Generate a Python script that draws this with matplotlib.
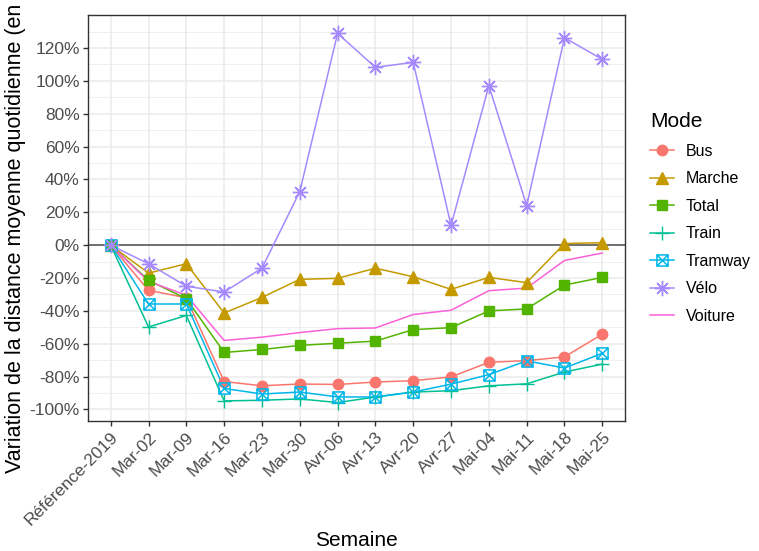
import numpy as np
import matplotlib
matplotlib.use('Agg')
import matplotlib.pyplot as plt
from matplotlib.path import Path
from matplotlib.ticker import MultipleLocator

plt.rcParams['font.family'] = ['Liberation Sans', 'DejaVu Sans']

##
## data (variation vs. reference 2019, in %)
##
semaines = ['Référence-2019', 'Mar-02', 'Mar-09', 'Mar-16', 'Mar-23', 'Mar-30', 'Avr-06',
            'Avr-13', 'Avr-20', 'Avr-27', 'Mai-04', 'Mai-11', 'Mai-18', 'Mai-25']

bus     = [0, -27.5, -32.0, -83.0, -85.6, -84.5, -84.8, -83.3, -82.5, -80.2, -71.3, -70.3, -68.0, -54.2]
marche  = [0, -17.0, -11.3, -41.3, -31.8, -20.8, -20.2, -14.0, -19.2, -26.9, -19.6, -22.8,   1.0,   1.5]
total   = [0, -21.4, -32.6, -65.3, -63.5, -61.0, -59.7, -58.4, -51.4, -50.2, -40.0, -38.8, -24.3, -19.6]
train   = [0, -49.8, -42.8, -94.8, -94.4, -93.6, -95.8, -92.4, -89.4, -88.6, -85.6, -84.4, -77.2, -72.4]
tramway = [0, -35.8, -35.8, -87.2, -90.6, -89.4, -92.4, -92.4, -89.4, -84.6, -78.8, -70.4, -74.8, -65.8]
velo    = [0, -11.3, -25.0, -28.5, -14.0,  32.6, 128.9, 108.3, 111.3,  12.0,  97.1,  24.1, 126.3, 113.1]
voiture = [0, -22.0, -30.5, -58.0, -56.0, -53.2, -50.8, -50.4, -42.2, -39.6, -27.7, -26.1,  -9.3,  -4.8]

modes  = ['Bus', 'Marche', 'Total', 'Train', 'Tramway', 'Vélo', 'Voiture']
series = [bus, marche, total, train, tramway, velo, voiture]

## ggplot hue palette
colors = ['#F8766D', '#C49A00', '#53B400', '#00C094', '#00B6EB', '#A58AFF', '#FB61D7']

## square with a cross (R pch 7)
boxx = Path([(-1, -1), (1, -1), (1, 1), (-1, 1), (-1, -1), (-1, -1), (1, 1), (-1, 1), (1, -1)],
            [Path.MOVETO, Path.LINETO, Path.LINETO, Path.LINETO, Path.CLOSEPOLY,
             Path.MOVETO, Path.LINETO, Path.MOVETO, Path.LINETO])

markers = ['o', '^', 's', '+', boxx, (8, 2, 0), None]
msizes  = [7.5, 8.5, 7.5, 10, 8, 11, 0]

def style(mk, ms, col):
    if mk is None:
        return {}
    if mk is boxx:
        return dict(marker=mk, ms=ms, mfc='none', mec=col, mew=1.1)
    if mk in ['+', (8, 2, 0)]:
        return dict(marker=mk, ms=ms, mec=col, mew=1.0)
    return dict(marker=mk, ms=ms, mfc=col, mec=col)

##
## figure
##
fig = plt.figure(figsize=(7.59, 5.51), dpi=100)
ax = fig.add_axes([88/759, 1-421/551, (625-88)/759, (421-15)/551])

x = np.arange(len(semaines))

ax.axhline(0, color='#4D4D4D', lw=1.1, zorder=1.5)

for vals, col in zip(series, colors):
    ax.plot(x, vals, color=col, lw=1.1, zorder=2)

for vals, col, mk, ms in zip(series, colors, markers, msizes):
    if mk is None:
        continue
    ax.plot(x, vals, ls='none', zorder=3, **style(mk, ms, col))

## legend handles (line + point)
handles = []
for name, col, mk, ms in zip(modes, colors, markers, msizes):
    h, = ax.plot([], [], color=col, lw=1.1, label=name, **style(mk, ms, col))
    handles.append(h)

leg = fig.legend(handles=handles, loc='upper left', bbox_to_anchor=(636/759, 1-98/551),
                 frameon=False, title='Mode', fontsize=11.5, title_fontsize=15,
                 alignment='left', handlelength=1.5, labelspacing=0.78, handletextpad=0.7)

## axes limits (ggplot-like expansion)
allv = np.concatenate([np.array(s) for s in series])
lo, hi = allv.min(), allv.max()
pad = 0.05*(hi - lo)
ax.set_ylim(lo - pad, hi + pad)
ax.set_xlim(-0.6, len(semaines) - 0.4)

ax.set_xticks(x)
ax.set_xticklabels(semaines, rotation=45, ha='right', rotation_mode='anchor')
yt = np.arange(-100, 121, 20)
ax.set_yticks(yt)
ax.set_yticklabels(['%d%%' % v for v in yt])
ax.yaxis.set_minor_locator(MultipleLocator(10))

ax.set_axisbelow(True)
ax.grid(which='major', color='#EBEBEB', lw=1.1)
ax.grid(which='minor', axis='y', color='#EBEBEB', lw=0.55)
ax.tick_params(axis='both', which='major', labelsize=12.5, labelcolor='#4D4D4D',
               color='#333333', length=3.5, width=1.0, direction='out', pad=2.5)
ax.tick_params(axis='y', which='minor', length=0)
for sp in ax.spines.values():
    sp.set_color('#333333')
    sp.set_linewidth(1.0)

ax.set_xlabel('Semaine', fontsize=15, va='center')
ax.xaxis.set_label_coords(0.5, -(540-421)/406)
ax.set_ylabel('Variation de la distance moyenne quotidienne (en %)', fontsize=15.5, va='center')
ax.yaxis.set_label_coords(-(88-16)/537, (421-222)/406)

plt.savefig('out.png', dpi=100)
